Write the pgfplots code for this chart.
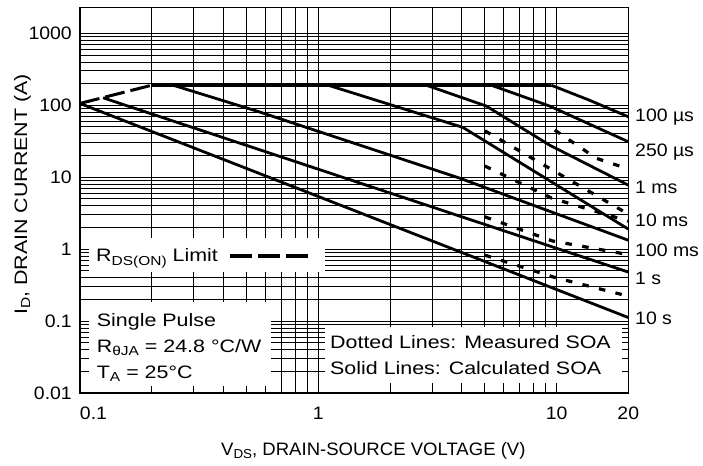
\documentclass[border=0pt]{standalone}
\usepackage{fontspec}
\setmainfont{Liberation Sans}[FakeStretch=1.03]
\newfontfamily\wfont{Liberation Sans}[FakeStretch=1.19]
\newfontfamily\tfont{Liberation Sans}[FakeStretch=1.08]
\usepackage{pgfplots}
\pgfplotsset{compat=1.18}
\newcommand{\fs}{\fontsize{18bp}{21bp}\selectfont}
\newcommand{\sub}[1]{\raisebox{-0.32ex}{\fontsize{13bp}{13bp}\selectfont #1}}
\tikzset{
  sol/.style={black, line width=2.8bp, mark=none, solid},
  meas/.style={black, line width=3.2bp, mark=none, dash pattern=on 6.5bp off 10.5bp},
  rds/.style={black, line width=3bp, mark=none, dash pattern=on 20bp off 6bp},
}
\begin{document}
\begin{tikzpicture}
\path[use as bounding box] (0,0) rectangle (703bp,466bp);
\begin{axis}[
  at={(80bp,73bp)}, anchor=south west,
  scale only axis, width=548.3bp, height=385bp,
  xmode=log, ymode=log,
  xmin=0.1, xmax=20, ymin=0.01, ymax=2250,
  xtick={0.1,1,10,20},
  xticklabels={\makebox[0pt][l]{0.1},1,10,20},
  ytick={0.01,0.1,1,10,100,1000},
  yticklabels={0.01,0.1,1,10,100,1000},
  minor xtick={0.2,0.3,0.4,0.5,0.6,0.7,0.8,0.9,2,3,4,5,6,7,8,9},
  minor ytick={0.02,0.03,0.04,0.05,0.06,0.07,0.08,0.09,0.2,0.3,0.4,0.5,0.6,0.7,0.8,0.9,2,3,4,5,6,7,8,9,20,30,40,50,60,70,80,90,200,300,400,500,600,700,800,900},
  major tick length=0pt, minor tick length=0pt,
  grid=both,
  major grid style={black, line width=0.9bp},
  minor grid style={black, line width=0.9bp},
  axis line style={line width=1bp},
  xticklabel style={font=\tfont\fs, inner sep=0pt, anchor=north, yshift=-14bp},
  yticklabel style={font=\tfont\fs, inner sep=0pt, anchor=east, xshift=-8bp},
  /pgf/number format/assume math mode=true,
]
% flat current limit
\addplot[sol] coordinates {(0.2,190) (9.5,190)};
% RDS(on) limit
\addplot[rds] coordinates {(0.1,106) (0.2,190)};
% calculated SOA (solid)
\addplot[sol] coordinates {(0.1,106) (20,0.112)};                       % 10 s
\addplot[sol] coordinates {(0.125,127) (20,0.48)};                      % 1 s
\addplot[sol] coordinates {(0.246,190) (0.569,80.4) (3.92,9.7) (20,1.33)}; % 100 ms
\addplot[sol] coordinates {(1.1,190) (4.04,49.3) (20,1.9)};             % 10 ms
\addplot[sol] coordinates {(2.84,190) (5.07,97.5) (9.35,27.9) (20,7.76)}; % 1 ms
\addplot[sol] coordinates {(5.32,190) (9.35,97.5) (20,31.1)};           % 250 us
\addplot[sol] coordinates {(9.5,190) (13.7,118) (20,69.2)};             % 100 us
% measured SOA (dotted)
\addplot[meas] coordinates {(5,44.2) (20,3.07)};
\addplot[meas] coordinates {(9.82,45.2) (14.7,18.3) (20,13.0)};
\addplot[meas] coordinates {(5,14.3) (9.53,5.12) (20,2.45)};
\addplot[meas] coordinates {(5,2.81) (9.6,1.30) (20,0.84)};
\addplot[meas] coordinates {(5,0.825) (9.82,0.404) (20,0.222)};
\draw[line width=2bp] (rel axis cs:0,1) -- (rel axis cs:0,0) -- (rel axis cs:1,0);
\end{axis}
% boxes
\fill[white] (89bp,194bp) rectangle (325bp,228bp);
\fill[white] (89bp,80bp) rectangle (271bp,164bp);
\fill[white] (325bp,83bp) rectangle (622bp,139bp);
\node[anchor=base west, inner sep=0pt, font=\wfont\fs] at (96bp,204bp) {R\sub{DS(ON)} Limit};
\draw[line width=3.3bp, dash pattern=on 22bp off 6bp] (230bp,210bp) -- (313bp,210bp);
\node[anchor=base west, inner sep=0pt, font=\wfont\fs] at (96.7bp,139.3bp) {Single Pulse};
\node[anchor=base west, inner sep=0pt, font=\wfont\fs] at (96.7bp,113.3bp) {R\sub{θJA} = 24.8 °C/W};
\node[anchor=base west, inner sep=0pt, font=\wfont\fs] at (96.7bp,87.7bp) {T\sub{A} = 25°C};
\node[anchor=base west, inner sep=0pt, font=\wfont\fs] at (330bp,117.7bp) {Dotted Lines: Measured SOA};
\node[anchor=base west, inner sep=0pt, font=\wfont\fs] at (330bp,91bp) {Solid Lines: Calculated SOA};
% curve labels
\node[anchor=base west, inner sep=0pt, font=\tfont\fs] at (635bp,344.3bp) {100 µs};
\node[anchor=base west, inner sep=0pt, font=\tfont\fs] at (635bp,309.3bp) {250 µs};
\node[anchor=base west, inner sep=0pt, font=\tfont\fs] at (635bp,272.7bp) {1 ms};
\node[anchor=base west, inner sep=0pt, font=\tfont\fs] at (635bp,239.3bp) {10 ms};
\node[anchor=base west, inner sep=0pt, font=\tfont\fs] at (635bp,209.3bp) {100 ms};
\node[anchor=base west, inner sep=0pt, font=\tfont\fs] at (635bp,181bp) {1 s};
\node[anchor=base west, inner sep=0pt, font=\tfont\fs] at (635bp,141bp) {10 s};
% axis labels
\node[anchor=base west, inner sep=0pt, font=\fs] at (221bp,11bp) {V\sub{DS}, DRAIN-SOURCE VOLTAGE (V)};
\node[anchor=base west, inner sep=0pt, font=\wfont\fs, rotate=90] at (27bp,151bp) {I\sub{D}, DRAIN CURRENT (A)};
\end{tikzpicture}
\end{document}
